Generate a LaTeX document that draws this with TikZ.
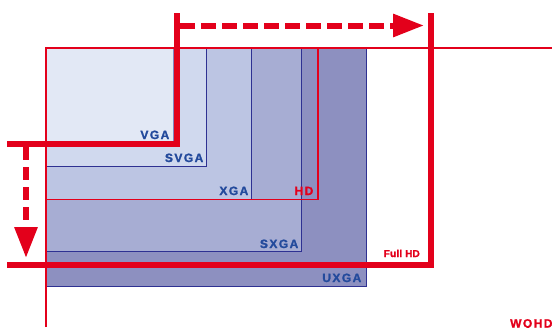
\documentclass[tikz,border=0pt]{standalone}
\usepackage{fontspec}
\setmainfont{Liberation Sans}
\usetikzlibrary{arrows.meta}
\definecolor{rd}{HTML}{E3001B}
\definecolor{bl}{HTML}{2E3192}
\definecolor{tx}{HTML}{234A9C}
\definecolor{cvga}{HTML}{E2E8F5}
\definecolor{csvga}{HTML}{D0D9EE}
\definecolor{cxga}{HTML}{BCC5E3}
\definecolor{csxga}{HTML}{A7ADD3}
\definecolor{cuxga}{HTML}{8D90C0}
\newfontfamily\lblfont[LetterSpace=12,FakeBold=1.5]{Liberation Sans Bold}
\newfontfamily\fhdfont[LetterSpace=2,FakeBold=1]{Liberation Sans Bold}
\tikzset{
  resbox/.style={draw=bl, line width=1pt},
  lbl/.style={inner sep=0pt, anchor=base east, font=\lblfont\fontsize{12}{12}\selectfont},
  bluelbl/.style={lbl, text=tx},
  redlbl/.style={lbl, text=rd},
  thick red/.style={draw=rd, line width=6pt, line join=miter},
  redline/.style={draw=rd, line width=1.6pt},
  dasharrow/.style={draw=rd, line width=6pt, -{Triangle[length=31pt,width=22pt]}},
}
\begin{document}
\begin{tikzpicture}[x=1pt,y=-1pt]
\clip (0,0) rectangle (552,327);
% filled resolution boxes
\path[resbox, fill=cuxga] (46,47.5) rectangle (366,286.5);
\path[resbox, fill=csxga] (46,47.5) rectangle (301.5,251);
\path[resbox, fill=cxga] (46,47.5) rectangle (251,199.5);
\path[resbox, fill=csvga] (46,47.5) rectangle (206,166.5);
\path[resbox, fill=cvga, draw=none] (46,47.5) rectangle (173.5,143);
\draw[bl!60, line width=0.6pt] (173.5,47.5) -- (173.5,143);
% HD outline
\draw[redline] (46,47.5) rectangle (318,199.5);
% WQHD thin lines
\draw[redline] (46,327) -- (46,47.5);
\draw[redline, line width=1.8pt] (45.5,47.6) -- (552,47.6);
% labels
\node[bluelbl] (vga) at (169.5,139) {VGA};
\node[bluelbl] (svga) at (203.5,162) {SVGA};
\node[bluelbl] (xga) at (248.5,195) {XGA};
\node[redlbl] (hd) at (313.5,195) {H\kern1.5pt D};
\node[bluelbl] (sxga) at (298.5,248) {SXGA};
\node[bluelbl] (uxga) at (361.5,282) {UXGA};
\node[redlbl, font=\fhdfont\fontsize{10}{10}\selectfont] (fhd) at (420,257) {Full HD};
\node[redlbl, anchor=base west] (wqhd) at (510,327.5) {WQHD};
% thick L shapes
\coordinate (vgaL) at (7,143.5);
\coordinate (vgaC) at (177,143.5);
\coordinate (vgaT) at (177,13);
\coordinate (fhdL) at (7,265);
\coordinate (fhdC) at (430.5,265);
\coordinate (fhdT) at (430.5,13);
\draw[thick red] (vgaL) -- (vgaC) -- (vgaT);
\draw[thick red] (fhdL) -- (fhdC) -- (fhdT);
% dashed arrows
\coordinate (hs) at (180,25.5);
\coordinate (he) at (424,25.5);
\coordinate (vs) at (26,147);
\coordinate (ve) at (26,258);
\draw[dasharrow, dash pattern=on 15pt off 6pt] (hs) -- (he);
\draw[dasharrow, dash pattern=on 13pt off 7pt] (vs) -- (ve);
\end{tikzpicture}
\end{document}
